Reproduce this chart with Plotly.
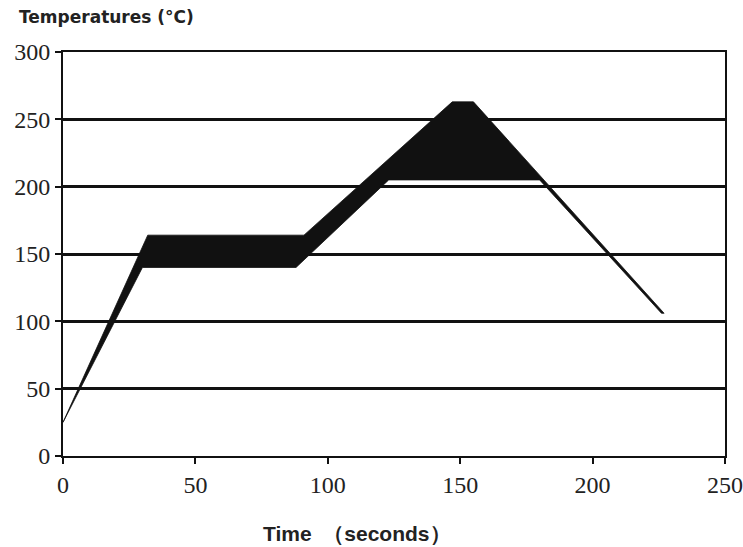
import plotly.graph_objects as go

# Reflow profile band (upper and lower boundary of the allowed zone)
upper_time = [0, 32, 91, 147, 155, 227]
upper_temp = [25, 164, 164, 263, 263, 106]
lower_time = [0, 30, 88, 123, 180, 226]
lower_temp = [25, 140, 140, 205, 205, 106]

x_ticks = [0, 50, 100, 150, 200, 250]
y_ticks = [0, 50, 100, 150, 200, 250, 300]

poly_x = upper_time + lower_time[::-1]
poly_y = upper_temp + lower_temp[::-1]

fig = go.Figure()
fig.add_trace(go.Scatter(
    x=poly_x, y=poly_y, mode="lines", fill="toself",
    fillcolor="#111111", line=dict(color="#111111", width=0.8),
    hoverinfo="skip", showlegend=False,
))

tick_font = dict(family="Liberation Serif", size=24, color="#222222")

fig.update_layout(
    width=743, height=547,
    margin=dict(l=63, r=18, t=52, b=91),
    paper_bgcolor="white", plot_bgcolor="white",
    xaxis=dict(
        range=[0, 250], tickvals=x_ticks, showgrid=False, zeroline=False,
        showline=True, linecolor="#111111", linewidth=2, mirror=True,
        ticks="outside", ticklen=6, tickwidth=2, tickcolor="#111111",
        tickfont=tick_font, automargin=False,
    ),
    yaxis=dict(
        range=[0, 300], tickvals=y_ticks, showgrid=True, gridcolor="#111111",
        gridwidth=2.5, zeroline=False,
        showline=True, linecolor="#111111", linewidth=2, mirror=True,
        ticks="outside", ticklen=6, tickwidth=2, tickcolor="#111111",
        tickfont=tick_font, automargin=False,
    ),
    annotations=[
        dict(text="<b>Temperatures (°C)</b>", xref="paper", yref="paper",
             x=-0.0695, y=1.0866, xanchor="left", yanchor="middle",
             showarrow=False,
             font=dict(family="DejaVu Sans", size=17, color="#222222")),
        dict(text="<b>Time\u00a0\u00a0（seconds）\u00a0</b>", xref="paper", yref="paper",
             x=0.4486, y=-0.1906, xanchor="center", yanchor="middle",
             showarrow=False,
             font=dict(family="Liberation Sans", size=21, color="#222222")),
    ],
)

fig.write_html(
    "out.html",
    config={"displayModeBar": False},
    post_script="document.body.style.margin='0';document.body.style.overflow='hidden';",
)
